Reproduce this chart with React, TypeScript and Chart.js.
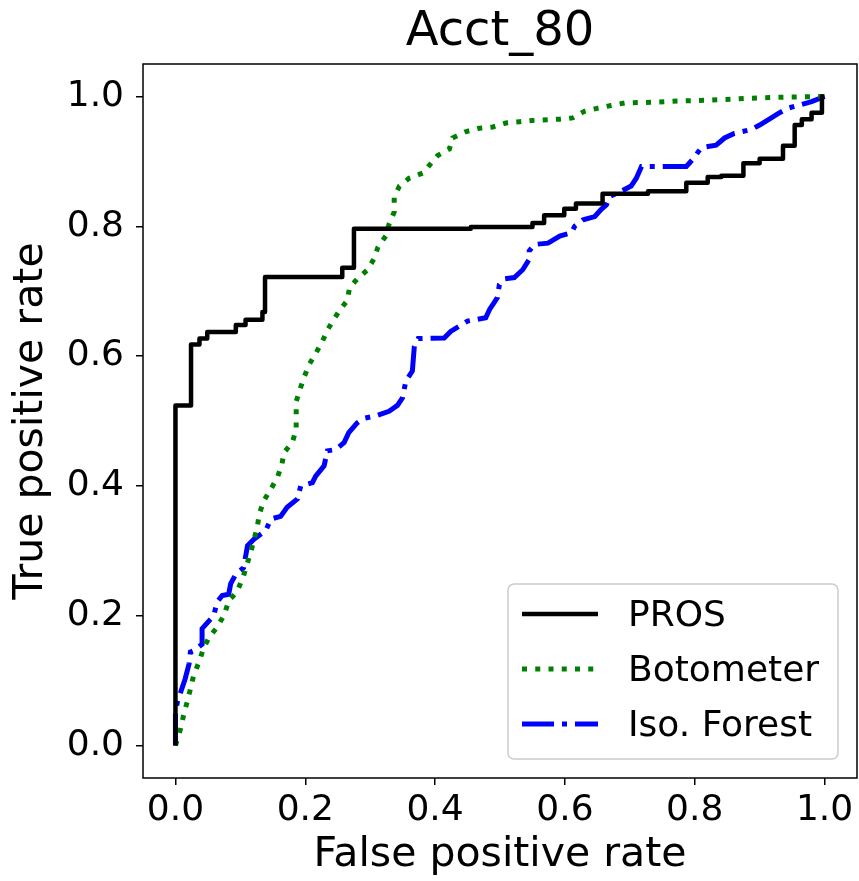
import { useEffect, useRef } from 'react';
import { Chart, registerables } from 'chart.js';

Chart.register(...registerables);

const FONT = '"DejaVu Sans", "Liberation Sans", sans-serif';

const TITLE = 'Acct_80';
const X_LABEL = 'False positive rate';
const Y_LABEL = 'True positive rate';
const TICKS = [0, 0.2, 0.4, 0.6, 0.8, 1.0];
const SERIES_NAMES = ['PROS', 'Botometer', 'Iso. Forest'];
const SERIES_COLORS = ['#000000', '#008000', '#0000ff'];

const PROS_FPR = [0, 0, 0.024, 0.024, 0.037, 0.037, 0.049, 0.049, 0.093, 0.093, 0.108, 0.108, 0.134, 0.134, 0.138, 0.138, 0.257, 0.257, 0.275, 0.275, 0.455, 0.455, 0.55, 0.55, 0.568, 0.568, 0.599, 0.599, 0.617, 0.617, 0.658, 0.658, 0.728, 0.728, 0.787, 0.787, 0.82, 0.82, 0.841, 0.841, 0.875, 0.875, 0.9, 0.9, 0.936, 0.936, 0.954, 0.954, 0.965, 0.965, 0.98, 0.98, 0.996, 0.996, 1];
const PROS_TPR = [0, 0.524, 0.524, 0.618, 0.618, 0.627, 0.627, 0.637, 0.637, 0.648, 0.648, 0.656, 0.656, 0.668, 0.668, 0.722, 0.722, 0.736, 0.736, 0.796, 0.796, 0.799, 0.799, 0.805, 0.805, 0.817, 0.817, 0.827, 0.827, 0.835, 0.835, 0.85, 0.85, 0.854, 0.854, 0.867, 0.867, 0.876, 0.876, 0.878, 0.878, 0.897, 0.897, 0.904, 0.904, 0.924, 0.924, 0.956, 0.956, 0.965, 0.965, 0.975, 0.975, 1.0, 1.0];

const BOT_FPR = [0, 0.008, 0.013, 0.018, 0.023, 0.028, 0.036, 0.043, 0.052, 0.064, 0.075, 0.082, 0.095, 0.105, 0.116, 0.126, 0.129, 0.136, 0.147, 0.157, 0.164, 0.167, 0.18, 0.186, 0.186, 0.192, 0.198, 0.206, 0.216, 0.226, 0.234, 0.243, 0.254, 0.265, 0.268, 0.28, 0.296, 0.306, 0.312, 0.324, 0.329, 0.337, 0.337, 0.345, 0.36, 0.381, 0.404, 0.422, 0.427, 0.448, 0.468, 0.489, 0.509, 0.53, 0.55, 0.592, 0.612, 0.63, 0.651, 0.671, 0.692, 0.733, 0.774, 0.815, 0.859, 0.903, 0.944, 1];
const BOT_TPR = [0, 0.026, 0.049, 0.067, 0.087, 0.108, 0.128, 0.149, 0.167, 0.182, 0.201, 0.223, 0.237, 0.262, 0.298, 0.336, 0.356, 0.377, 0.395, 0.413, 0.433, 0.451, 0.467, 0.487, 0.53, 0.549, 0.567, 0.587, 0.604, 0.622, 0.64, 0.655, 0.672, 0.686, 0.705, 0.719, 0.733, 0.75, 0.768, 0.785, 0.803, 0.822, 0.844, 0.862, 0.874, 0.882, 0.909, 0.919, 0.936, 0.946, 0.951, 0.953, 0.959, 0.961, 0.963, 0.965, 0.967, 0.977, 0.982, 0.986, 0.99, 0.991, 0.993, 0.994, 0.996, 0.998, 0.999, 1];

const ISO_FPR = [0, 0, 0.003, 0.008, 0.015, 0.021, 0.023, 0.028, 0.041, 0.041, 0.049, 0.059, 0.064, 0.072, 0.082, 0.085, 0.093, 0.105, 0.111, 0.121, 0.139, 0.147, 0.162, 0.172, 0.188, 0.193, 0.211, 0.216, 0.229, 0.234, 0.247, 0.26, 0.267, 0.28, 0.29, 0.309, 0.329, 0.342, 0.35, 0.355, 0.365, 0.368, 0.374, 0.414, 0.424, 0.45, 0.478, 0.484, 0.496, 0.499, 0.507, 0.522, 0.535, 0.545, 0.545, 0.553, 0.574, 0.592, 0.61, 0.615, 0.628, 0.646, 0.656, 0.664, 0.669, 0.687, 0.702, 0.71, 0.718, 0.787, 0.797, 0.81, 0.833, 0.846, 0.861, 0.887, 0.9, 0.918, 0.929, 0.944, 0.962, 0.98, 1];
const ISO_TPR = [0, 0.051, 0.067, 0.082, 0.103, 0.126, 0.144, 0.146, 0.156, 0.18, 0.189, 0.2, 0.221, 0.231, 0.233, 0.249, 0.264, 0.274, 0.308, 0.318, 0.331, 0.349, 0.353, 0.367, 0.38, 0.4, 0.405, 0.415, 0.431, 0.454, 0.456, 0.467, 0.482, 0.497, 0.504, 0.508, 0.515, 0.524, 0.536, 0.562, 0.577, 0.615, 0.627, 0.628, 0.638, 0.654, 0.659, 0.672, 0.69, 0.71, 0.719, 0.721, 0.733, 0.749, 0.762, 0.772, 0.774, 0.785, 0.79, 0.8, 0.81, 0.815, 0.826, 0.833, 0.846, 0.854, 0.862, 0.874, 0.892, 0.892, 0.903, 0.921, 0.925, 0.936, 0.943, 0.949, 0.956, 0.967, 0.974, 0.982, 0.987, 0.992, 1];

const toPoints = (xs: number[], ys: number[]) => xs.map((x, i) => ({ x, y: ys[i] }));

const decorPlugin = {
  id: 'decor',
  afterDatasetsDraw(chart: any) {
    const { ctx, chartArea: ca } = chart;
    ctx.save();
    // axes frame
    ctx.strokeStyle = '#000';
    ctx.lineWidth = 1.5;
    ctx.setLineDash([]);
    ctx.strokeRect(ca.left, ca.top, ca.right - ca.left, ca.bottom - ca.top);
    // title
    ctx.fillStyle = '#000';
    ctx.font = `48px ${FONT}`;
    ctx.textAlign = 'center';
    ctx.textBaseline = 'alphabetic';
    ctx.fillText(TITLE, (ca.left + ca.right) / 2, ca.top - 19);
    // legend
    const w = 330;
    const h = 175;
    const right = ca.right - 19;
    const bottom = ca.bottom - 19;
    const left = right - w;
    const top = bottom - h;
    const r = 6;
    ctx.beginPath();
    ctx.moveTo(left + r, top);
    ctx.lineTo(right - r, top);
    ctx.arcTo(right, top, right, top + r, r);
    ctx.lineTo(right, bottom - r);
    ctx.arcTo(right, bottom, right - r, bottom, r);
    ctx.lineTo(left + r, bottom);
    ctx.arcTo(left, bottom, left, bottom - r, r);
    ctx.lineTo(left, top + r);
    ctx.arcTo(left, top, left + r, top, r);
    ctx.closePath();
    ctx.fillStyle = 'rgba(255,255,255,0.8)';
    ctx.fill();
    ctx.strokeStyle = '#cccccc';
    ctx.lineWidth = 1.5;
    ctx.stroke();
    ctx.font = `36px ${FONT}`;
    ctx.textAlign = 'left';
    chart.data.datasets.forEach((ds: any, i: number) => {
      const base = top + 42 + i * 55;
      const ly = base - 12;
      ctx.beginPath();
      ctx.strokeStyle = ds.borderColor;
      ctx.lineWidth = ds.borderWidth;
      ctx.lineCap = 'butt';
      ctx.setLineDash(ds.borderDash || []);
      ctx.moveTo(left + 14, ly);
      ctx.lineTo(left + 90, ly);
      ctx.stroke();
      ctx.setLineDash([]);
      ctx.fillStyle = '#000';
      ctx.fillText(ds.label, left + 120, base);
    });
    ctx.restore();
  },
};

export default function App() {
  const ref = useRef<HTMLCanvasElement>(null);
  useEffect(() => {
    const axisCommon = (isX: boolean) => ({
      type: 'linear' as const,
      min: -0.05,
      max: 1.05,
      afterBuildTicks: (s: any) => {
        s.ticks = TICKS.map((v) => ({ value: v }));
      },
      grid: {
        display: true,
        drawOnChartArea: false,
        drawTicks: true,
        tickLength: 7,
        color: '#000',
        lineWidth: 1.5,
      },
      border: { display: false },
      ticks: {
        padding: isX ? 4 : 12,
        color: '#000',
        font: { family: FONT, size: 36 },
        maxRotation: 0,
        autoSkip: false,
        callback: (v: any) => Number(v).toFixed(1),
      },
      title: {
        display: true,
        text: isX ? X_LABEL : Y_LABEL,
        color: '#000',
        font: { family: FONT, size: 41 },
        padding: isX ? { top: 0, bottom: 1 } : { top: 7, bottom: 0 },
      },
    });
    const chart = new Chart(ref.current!, {
      type: 'line',
      data: {
        datasets: [
          {
            label: SERIES_NAMES[0],
            data: toPoints(PROS_FPR, PROS_TPR),
            borderColor: SERIES_COLORS[0],
            borderWidth: 4.5,
            borderJoinStyle: 'round',
            pointRadius: 0,
            tension: 0,
          },
          {
            label: SERIES_NAMES[1],
            data: toPoints(BOT_FPR, BOT_TPR),
            borderColor: SERIES_COLORS[1],
            borderWidth: 5,
            borderDash: [5, 8.25],
            borderCapStyle: 'butt',
            pointRadius: 0,
            tension: 0,
          },
          {
            label: SERIES_NAMES[2],
            data: toPoints(ISO_FPR, ISO_TPR),
            borderColor: SERIES_COLORS[2],
            borderWidth: 5,
            borderDash: [32, 8, 5, 8],
            borderCapStyle: 'butt',
            pointRadius: 0,
            tension: 0,
          },
        ],
      },
      options: {
        animation: false,
        responsive: false,
        devicePixelRatio: 1,
        layout: { padding: { top: 64, right: 2, left: 0, bottom: 0 } },
        plugins: {
          legend: { display: false },
          tooltip: { enabled: false },
          title: { display: false },
        },
        scales: {
          x: {
            ...axisCommon(true),
            afterFit: (s: any) => {
              s.height = 103;
            },
          },
          y: {
            ...axisCommon(false),
            afterFit: (s: any) => {
              s.width = 143;
            },
          },
        },
      } as any,
      plugins: [decorPlugin],
    });
    return () => chart.destroy();
  }, []);
  return (
    <div style={{ position: 'absolute', left: 0, top: 0, width: 859, height: 881, background: '#fff' }}>
      <canvas ref={ref} width={859} height={881} style={{ display: 'block', width: 859, height: 881 }} />
    </div>
  );
}
